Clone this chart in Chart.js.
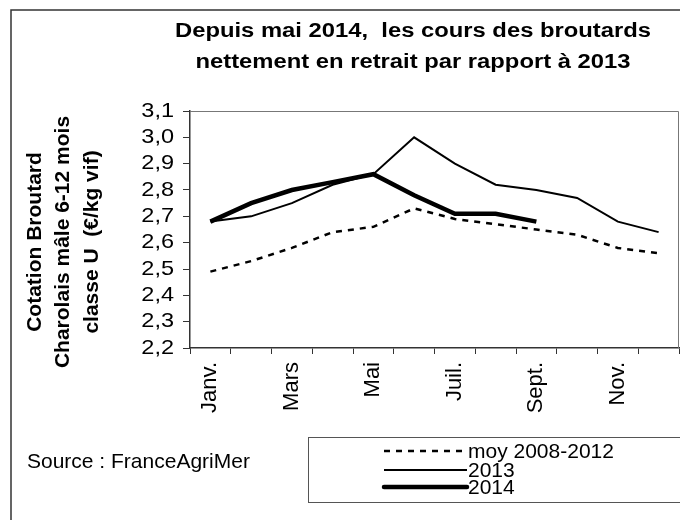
<!DOCTYPE html>
<html>
<head>
<meta charset="utf-8">
<script src="https://cdn.jsdelivr.net/npm/chart.js@4/dist/chart.umd.min.js"></script>
<style>
  html, body { margin: 0; padding: 0; background: #fff; }
  #wrap { width: 680px; height: 520px; }
</style>
</head>
<body>
<div id="wrap"><canvas id="chart" width="680" height="520"></canvas></div>
<script>
// months on the x axis (only every other one is labelled)
const months = ['Janv.', 'Févr.', 'Mars', 'Avr.', 'Mai', 'Juin', 'Juil.', 'Août', 'Sept.', 'Oct.', 'Nov.', 'Déc.'];

// prices in €/kg vif
const moy2008_2012 = [2.49, 2.53, 2.58, 2.64, 2.66, 2.73, 2.69, 2.67, 2.65, 2.63, 2.58, 2.56];
const y2013 = [2.68, 2.70, 2.75, 2.82, 2.86, 3.00, 2.90, 2.82, 2.80, 2.77, 2.68, 2.64];
const y2014 = [2.68, 2.75, 2.80, 2.83, 2.86, 2.78, 2.71, 2.71, 2.68, null, null, null];

const seriesNames = ['moy 2008-2012', '2013', '2014'];

const titleLines = ['Depuis mai 2014,  les cours des broutards', 'nettement en retrait par rapport à 2013'];
const yTitleLines = ['Cotation Broutard', 'Charolais mâle 6-12 mois', 'classe U  (€/kg vif)'];
const sourceText = 'Source : FranceAgriMer';

const FONT = '"Liberation Sans", Arial, sans-serif';

// draw text, optionally squeezed/stretched horizontally
function drawText(ctx, text, x, y, font, align, sx) {
    ctx.save();
    ctx.font = font;
    ctx.fillStyle = '#000';
    ctx.textBaseline = 'middle';
    ctx.textAlign = align;
    ctx.translate(x, y);
    ctx.scale(sx || 1, 1);
    ctx.fillText(text, 0, 0);
    ctx.restore();
}

// everything around the plot: frame, titles, tick labels, legend
const decorations = {
    id: 'decorations',
    beforeDraw(chart) {
        const ctx = chart.ctx;
        ctx.save();
        ctx.fillStyle = '#fff';
        ctx.fillRect(0, 0, chart.width, chart.height);
        ctx.strokeStyle = '#333';
        ctx.lineWidth = 1.5;
        ctx.strokeRect(11, 10, 700, 600);
        ctx.restore();
    },
    afterDraw(chart) {
        const ctx = chart.ctx;
        const area = chart.chartArea;

        // top and right sides of the plot frame
        ctx.save();
        ctx.strokeStyle = '#777';
        ctx.lineWidth = 1;
        ctx.beginPath();
        ctx.moveTo(area.left, area.top + 0.5);
        ctx.lineTo(area.right - 0.5, area.top + 0.5);
        ctx.lineTo(area.right - 0.5, area.bottom);
        ctx.stroke();
        ctx.restore();

        // chart title, stretched to the width of the original
        const titleFont = 'bold 20px ' + FONT;
        ctx.font = titleFont;
        const w1 = ctx.measureText(titleLines[0]).width;
        const sx = 476 / w1;
        drawText(ctx, titleLines[0], 413, 31, titleFont, 'center', sx);
        drawText(ctx, titleLines[1], 413, 62, titleFont, 'center', sx);

        // y axis title, three rotated lines
        const xs = [35, 63, 92];
        yTitleLines.forEach((line, i) => {
            ctx.save();
            ctx.translate(xs[i], 242);
            ctx.rotate(-Math.PI / 2);
            drawText(ctx, line, 0, 0, 'bold 21px ' + FONT, 'center', 1);
            ctx.restore();
        });

        // y tick labels with decimal comma
        const yScale = chart.scales.y;
        yScale.ticks.forEach(t => {
            const py = yScale.getPixelForValue(t.value);
            drawText(ctx, t.value.toFixed(1).replace('.', ','), 174, py, '21px ' + FONT, 'right', 1.12);
        });

        // source
        drawText(ctx, sourceText, 27, 462, '21px ' + FONT, 'left', 1);

        // legend box
        ctx.save();
        ctx.strokeStyle = '#555';
        ctx.lineWidth = 1;
        ctx.strokeRect(308.5, 437.5, 400, 65);
        ctx.restore();

        const rowsY = [451, 470, 487];
        chart.data.datasets.forEach((ds, i) => {
            ctx.save();
            ctx.strokeStyle = ds.borderColor;
            ctx.lineWidth = ds.borderWidth;
            ctx.lineCap = i === 2 ? 'round' : 'butt';
            ctx.setLineDash(ds.borderDash || []);
            ctx.beginPath();
            ctx.moveTo(384, rowsY[i]);
            ctx.lineTo(467, rowsY[i]);
            ctx.stroke();
            ctx.restore();
            drawText(ctx, ds.label, 468, rowsY[i] + 1, '21px ' + FONT, 'left', 1);
        });
    }
};

new Chart(document.getElementById('chart'), {
    type: 'line',
    data: {
        labels: months,
        datasets: [
            {
                label: seriesNames[0],
                data: moy2008_2012,
                borderColor: '#000',
                borderWidth: 2.5,
                borderDash: [6, 6],
                pointRadius: 0,
                tension: 0
            },
            {
                label: seriesNames[1],
                data: y2013,
                borderColor: '#000',
                borderWidth: 2,
                pointRadius: 0,
                tension: 0
            },
            {
                label: seriesNames[2],
                data: y2014,
                borderColor: '#000',
                borderWidth: 4.5,
                pointRadius: 0,
                tension: 0,
                spanGaps: false
            }
        ]
    },
    options: {
        responsive: false,
        animation: false,
        devicePixelRatio: 1,
        layout: { padding: { top: 111, right: 1, left: 0, bottom: 0 } },
        plugins: {
            legend: { display: false },
            title: { display: false },
            tooltip: { enabled: false }
        },
        scales: {
            x: {
                offset: true,
                grid: {
                    offset: true,
                    drawOnChartArea: false,
                    tickLength: 6,
                    color: '#333'
                },
                border: { color: '#333', width: 1.5 },
                ticks: {
                    autoSkip: false,
                    maxRotation: 90,
                    minRotation: 90,
                    padding: 8,
                    color: '#000',
                    font: { family: FONT, size: 22 },
                    callback: function(value, index) {
                        return index % 2 === 0 ? months[index] : '';
                    }
                },
                afterFit: function(scale) {
                    scale.height = 172;
                    scale.paddingLeft = 0;
                    scale.paddingRight = 0;
                }
            },
            y: {
                min: 2.2,
                max: 3.1,
                ticks: {
                    stepSize: 0.1,
                    display: false
                },
                grid: {
                    drawOnChartArea: false,
                    tickLength: 7,
                    color: '#333'
                },
                border: { color: '#333', width: 1.5 },
                afterFit: function(scale) {
                    scale.width = 190;
                    scale.paddingTop = 0;
                    scale.paddingBottom = 0;
                }
            }
        }
    },
    plugins: [decorations]
});
</script>
</body>
</html>
